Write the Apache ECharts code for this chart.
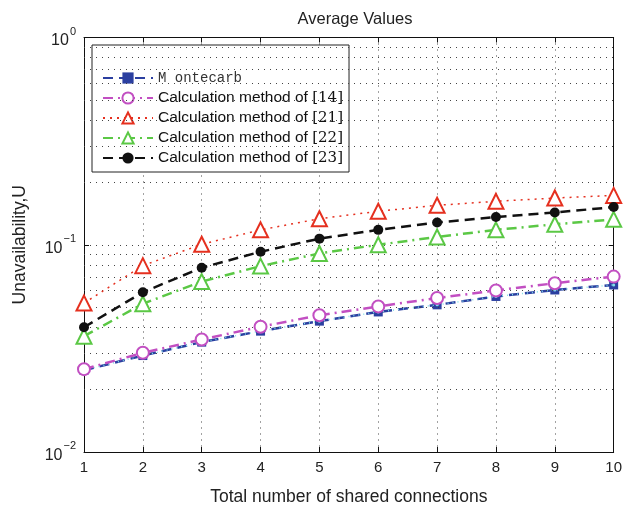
<!DOCTYPE html>
<html>
<head>
<meta charset="utf-8">
<script src="https://cdn.jsdelivr.net/npm/echarts@6/dist/echarts.min.js"></script>
<style>
  html, body { margin: 0; padding: 0; background: #fff; }
  #chart { width: 625px; height: 511px; }
</style>
</head>
<body>
<div id="chart"></div>
<script>
// x values: total number of shared connections
const connections = [1, 2, 3, 4, 5, 6, 7, 8, 9, 10];

const montecarlo = [0.0248, 0.0292, 0.0339, 0.0383, 0.0428, 0.0474, 0.0513, 0.0563, 0.0605, 0.0640];
const method14 = [0.0251, 0.0301, 0.0349, 0.0402, 0.0457, 0.0504, 0.0553, 0.0602, 0.0652, 0.0702];
const method21 = [0.0523, 0.0793, 0.1005, 0.118, 0.1335, 0.145, 0.155, 0.162, 0.168, 0.173];
const method22 = [0.0362, 0.0519, 0.0664, 0.0789, 0.0908, 0.100, 0.109, 0.118, 0.1255, 0.1326];
const method23 = [0.0400, 0.0590, 0.0775, 0.0925, 0.107, 0.118, 0.128, 0.136, 0.143, 0.152];

// minor log grid lines (2..9 per decade)
const minorY = [0.02, 0.03, 0.04, 0.05, 0.06, 0.07, 0.08, 0.09,
                0.2, 0.3, 0.4, 0.5, 0.6, 0.7, 0.8, 0.9];

const names = ['M ontecarb', 'Calculation method of [14]', 'Calculation method of [21]',
               'Calculation method of [22]', 'Calculation method of [23]'];

function pairs(arr) {
    return arr.map((v, i) => [connections[i], v]);
}

const gridDots = { color: '#444', width: 1, type: [1, 5] };

var myChart = echarts.init(document.getElementById('chart'), null, { renderer: 'canvas' });

var option = {
    animation: false,
    backgroundColor: '#fff',
    textStyle: { fontFamily: 'Liberation Sans, Arial, sans-serif' },
    title: {
        text: 'Average Values',
        left: 350,
        textAlign: 'center',
        top: 6,
        textStyle: { fontSize: 16.5, fontWeight: 'normal', color: '#222' }
    },
    grid: { left: 84, right: 10, top: 37.5, bottom: 56 },
    legend: {
        orient: 'vertical',
        left: 92,
        top: 45,
        padding: [25, 6, 6, 10],
        itemGap: 4,
        itemWidth: 50,
        itemHeight: 14,
        backgroundColor: '#fff',
        borderColor: '#222',
        borderWidth: 1,
        data: names,
        formatter: function (name) {
            if (name === names[0]) return '{mono|' + name + '}';
            var k = name.indexOf('[');
            return '{t|' + name.slice(0, k) + '}{ref|' + name.slice(k) + '}';
        },
        textStyle: {
            fontSize: 15.5,
            lineHeight: 16,
            color: '#111',
            rich: {
                t: { fontSize: 15.5, lineHeight: 16, color: '#111', fontFamily: 'Liberation Sans' },
                ref: { fontSize: 15, lineHeight: 16, color: '#111', fontFamily: 'DejaVu Serif' },
                mono: { fontSize: 14, lineHeight: 16, color: '#333', fontFamily: 'Liberation Mono' }
            }
        }
    },
    xAxis: [{
        type: 'value',
        min: 1,
        max: 10,
        interval: 1,
        name: 'Total number of shared connections',
        nameLocation: 'middle',
        nameGap: 36,
        nameTextStyle: { fontSize: 17.5, color: '#222' },
        axisLine: { lineStyle: { color: '#111', width: 1 } },
        axisTick: { inside: true, length: 5, lineStyle: { color: '#111' } },
        axisLabel: { fontSize: 15, color: '#222', margin: 8 },
        splitLine: { show: true, lineStyle: gridDots }
    }, {
        type: 'value',
        position: 'top',
        min: 1,
        max: 10,
        interval: 1,
        axisLine: { lineStyle: { color: '#111', width: 1 } },
        axisTick: { inside: true, length: 5, lineStyle: { color: '#111' } },
        axisLabel: { show: false },
        splitLine: { show: false }
    }],
    yAxis: [{
        type: 'log',
        logBase: 10,
        min: 0.01,
        max: 1,
        name: 'Unavailability,U',
        nameLocation: 'middle',
        nameGap: 55,
        nameTextStyle: { fontSize: 17.5, color: '#222' },
        axisLine: { show: true, lineStyle: { color: '#111', width: 1 } },
        axisTick: { show: true, inside: true, length: 5, lineStyle: { color: '#111' } },
        axisLabel: {
            margin: 8,
            formatter: function (v) {
                var e = Math.round(Math.log10(v));
                return '{b|10}{s|' + (e === 0 ? '0' : '\u2212' + (-e)) + '}';
            },
            rich: {
                b: { fontSize: 16, color: '#222', verticalAlign: 'bottom' },
                s: { fontSize: 11, color: '#222', verticalAlign: 'top', padding: [0, 0, 12, 1] }
            }
        },
        splitLine: { show: true, lineStyle: gridDots }
    }, {
        type: 'log',
        logBase: 10,
        min: 0.01,
        max: 1,
        position: 'right',
        axisLine: { show: true, lineStyle: { color: '#111', width: 1 } },
        axisTick: { show: true, inside: true, length: 5, lineStyle: { color: '#111' } },
        axisLabel: { show: false },
        splitLine: { show: false }
    }],
    series: [
        {
            name: 'minor grid',
            type: 'line',
            data: [],
            silent: true,
            markLine: {
                silent: true,
                symbol: 'none',
                label: { show: false },
                lineStyle: gridDots,
                data: minorY.map(v => ({ yAxis: v }))
            }
        },
        {
            name: names[0],
            type: 'line',
            data: pairs(montecarlo),
            symbol: 'rect',
            symbolSize: 9,
            itemStyle: { color: '#2b3fa0' },
            lineStyle: { color: '#2b3fa0', width: 2.5, type: [10, 6] },
            z: 3
        },
        {
            name: 'cyan',
            type: 'line',
            data: pairs(montecarlo),
            symbol: 'circle',
            symbolSize: 3,
            itemStyle: { color: '#7fe0e8' },
            lineStyle: { color: '#7fe0e8', width: 1.5, type: [1, 4] },
            z: 4
        },
        {
            name: names[1],
            type: 'line',
            data: pairs(method14),
            symbol: 'emptyCircle',
            symbolSize: 12,
            itemStyle: { color: '#c24fc2', borderWidth: 2.5 },
            lineStyle: { color: '#c24fc2', width: 2.5, type: [10, 5, 2, 5] },
            z: 5
        },
        {
            name: names[2],
            type: 'line',
            data: pairs(method21),
            symbol: 'emptyTriangle',
            symbolSize: 15,
            itemStyle: { color: '#e5301f', borderWidth: 2.5 },
            lineStyle: { color: '#e5301f', width: 1.5, type: [2, 5] },
            z: 5
        },
        {
            name: names[3],
            type: 'line',
            data: pairs(method22),
            symbol: 'emptyTriangle',
            symbolSize: 15,
            itemStyle: { color: '#5bc845', borderWidth: 2.5 },
            lineStyle: { color: '#5bc845', width: 2.5, type: [10, 5, 2, 5] },
            z: 5
        },
        {
            name: names[4],
            type: 'line',
            data: pairs(method23),
            symbol: 'circle',
            symbolSize: 10,
            itemStyle: { color: '#111' },
            lineStyle: { color: '#111', width: 2.5, type: [10, 6] },
            z: 6
        }
    ]
};
myChart.setOption(option);
</script>
</body>
</html>
